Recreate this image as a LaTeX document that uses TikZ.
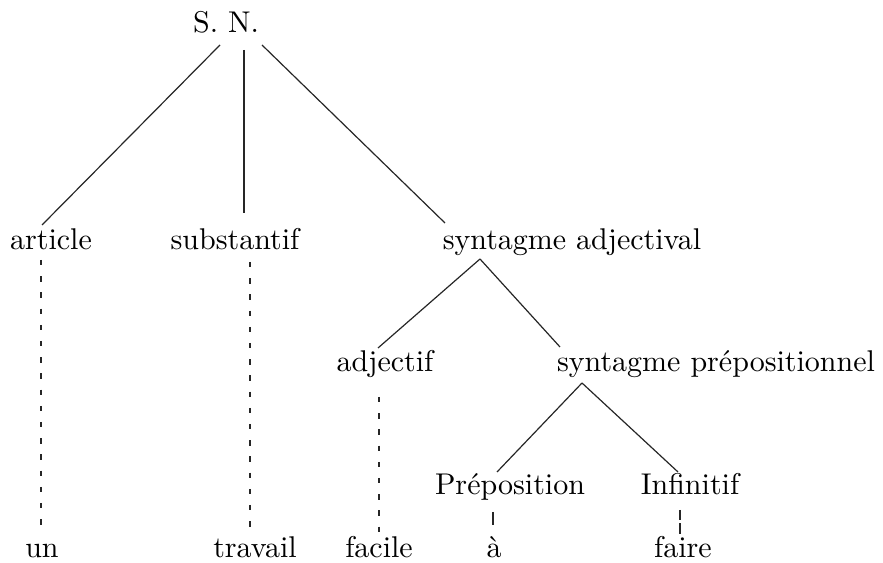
\documentclass[tikz,border=0pt]{standalone}
\usetikzlibrary{calc}
\begin{document}
\begin{tikzpicture}[x=0.33333pt,y=-0.33333pt,
  lbl/.style={anchor=base,inner sep=0pt,font=\fontsize{10}{12}\selectfont},
  branch/.style={line width=0.4pt,draw=black!85},
  lexlink/.style={line width=0.5pt,draw=black!85,dash pattern=on 1.8pt off 3.6pt},
  shortlink/.style={line width=0.45pt,draw=black!85,dash pattern=on 3.5pt off 1pt}]
\useasboundingbox (0,0) rectangle (883,563);
% nodes (base positions in px)
\node[lbl] (sn)   at (226,33)  {S. N.};
\node[lbl] (art)  at (51,250)  {article};
\node[lbl] (sub)  at (235,250) {substantif};
\node[lbl] (sa)   at (572,250) {syntagme adjectival};
\node[lbl] (adj)  at (385,372) {adjectif};
\node[lbl] (sp)   at (716,372) {syntagme prépositionnel};
\node[lbl] (prep) at (510,495) {Préposition};
\node[lbl] (inf)  at (690,495) {Infinitif};
\node[lbl] (un)   at (42,558)  {un};
\node[lbl] (trav) at (255,558) {travail};
\node[lbl] (fac)  at (379,558) {facile};
\node[lbl] (a)    at (494,558) {à};
\node[lbl] (fai)  at (683,558) {faire};
% branches
\draw[branch] ($(sn.base)+(-6,12)$) -- ($(art.base)+(-9,-25)$);
\draw[branch] ($(sn.base)+(18,17)$) -- ($(sub.base)+(9,-37)$);
\draw[branch] ($(sn.base)+(36,12)$) -- ($(sa.base)+(-127,-27)$);
\draw[branch] ($(sa.base)+(-92,9)$) -- ($(adj.base)+(-7,-24)$);
\draw[branch] ($(sa.base)+(-92,9)$) -- ($(sp.base)+(-156,-25)$);
\draw[branch] ($(sp.base)+(-134,11)$) -- ($(prep.base)+(-13,-23)$);
\draw[branch] ($(sp.base)+(-134,11)$) -- ($(inf.base)+(-12,-23)$);
% lexical links
\draw[lexlink] ($(art.base)+(-10,10)$) -- ($(un.base)+(-1,-25)$);
\draw[lexlink] ($(sub.base)+(15,12)$) -- ($(trav.base)+(-5,-25)$);
\draw[lexlink] ($(adj.base)+(-6,25)$) -- ($(fac.base)+(0,-26)$);
\draw[branch]  ($(prep.base)+(-17,17)$) -- ($(a.base)+(-1,-33)$);
\draw[shortlink] ($(inf.base)+(-10,15)$) -- ($(fai.base)+(-3,-23)$);
\end{tikzpicture}
\end{document}
